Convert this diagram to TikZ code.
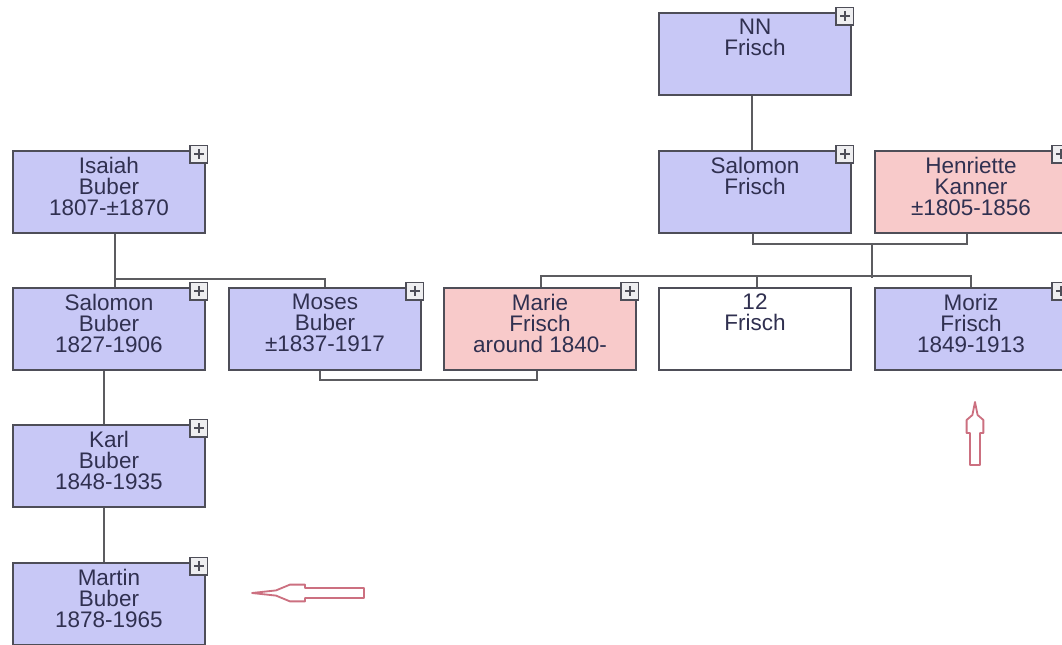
\documentclass[tikz,border=0pt]{standalone}
\usepackage{fontspec}
\setmainfont{Liberation Sans}
\usetikzlibrary{calc}
\definecolor{malefill}{HTML}{C8C8F6}
\definecolor{femfill}{HTML}{F8CACA}
\definecolor{stroke}{HTML}{4E4E58}
\definecolor{linec}{HTML}{5C5C60}
\definecolor{txt}{HTML}{303050}
\definecolor{arrowc}{HTML}{CC7080}
\definecolor{plusfill}{HTML}{EEEEF0}

\begin{document}
\begin{tikzpicture}[
  every node/.style={text=txt},
  person/.style={draw=stroke, line width=1.3pt, fill=malefill,
     minimum width=4.8cm, minimum height=2.05cm, inner sep=0pt,
     font=\fontsize{16}{14.9}\selectfont,
     execute at begin node={\begin{minipage}[c][1.75cm][t]{4.7cm}\centering},
     execute at end node={\end{minipage}}},
  woman/.style={person, fill=femfill},
  unknown/.style={person, fill=white},
  pbox/.style={draw=stroke, line width=1pt, fill=plusfill,
     minimum size=0.44cm, inner sep=0pt,
     path picture={\draw[line width=1pt, draw=stroke]
        ($(path picture bounding box.center)+(-0.12,0)$) -- ($(path picture bounding box.center)+(0.12,0)$)
        ($(path picture bounding box.center)+(0,-0.12)$) -- ($(path picture bounding box.center)+(0,0.12)$);}},
  link/.style={draw=linec, line width=1.4pt},
  hint/.style={draw=arrowc, line width=1.3pt, fill=white, line join=round},
]
\path[fill=white, use as bounding box] (0,0) rectangle (26.55,-16.1);
% --- columns / rows ---
\def\xa{2.725}  \def\xb{8.125}  \def\xc{13.5}  \def\xd{18.875}  \def\xe{24.275}
\def\ya{-1.35}  \def\yb{-4.8}  \def\yc{-8.225}  \def\yd{-11.65}  \def\ye{-15.1}
% --- Buber side ---
\node[person] (isaiah)   at (\xa,\yb) {Isaiah\\Buber\\1807-±1870};
\node[person] (salbuber) at (\xa,\yc) {Salomon\\Buber\\1827-1906};
\node[person] (moses)    at (\xb,\yc) {Moses\\Buber\\±1837-1917};
\node[person] (karl)     at (\xa,\yd) {Karl\\Buber\\1848-1935};
\node[person] (martin)   at (\xa,\ye) {Martin\\Buber\\1878-1965};
% --- Frisch side ---
\node[person]  (nn)        at (\xd,\ya) {NN\\Frisch};
\node[person]  (salfrisch) at (\xd,\yb) {Salomon\\Frisch};
\node[woman]   (henriette) at (\xe,\yb) {Henriette\\Kanner\\±1805-1856};
\node[woman]   (marie)     at (\xc,\yc) {Marie\\Frisch\\around 1840-};
\node[unknown] (twelve)    at (\xd,\yc) {12\\Frisch};
\node[person]  (moriz)     at (\xe,\yc) {Moriz\\Frisch\\1849-1913};
% --- expand buttons ---
\foreach \p in {isaiah,salbuber,moses,karl,martin,nn,salfrisch,henriette,marie,moriz}
  \node[pbox] (\p-plus) at ($(\p.north east)+(-0.175,-0.1)$) {};
% --- descent lines ---
\draw[link] ($(isaiah.south)+(0.15,0)$) -- ($(salbuber.north)+(0.15,0)$);
\coordinate (bbus) at ($(isaiah.south)+(0.15,-1.125)$);
\draw[link] (bbus) -| (moses.north);
\draw[link] ($(salbuber.south)+(-0.125,0)$) -- ($(karl.north)+(-0.125,0)$);
\draw[link] ($(karl.south)+(-0.125,0)$) -- ($(martin.north)+(-0.125,0)$);
\draw[link] ($(nn.south)+(-0.075,0)$) -- ($(salfrisch.north)+(-0.075,0)$);
% marriages
\draw[link] ($(moses.south)+(-0.125,0)$) -- ++(0,-0.225) -| ($(marie.south)+(-0.075,0)$);
\draw[link] ($(salfrisch.south)+(-0.05,0)$) -- ++(0,-0.25) -| ($(henriette.south)+(-0.1,0)$);
% children of Salomon & Henriette
\coordinate (fm) at ($(salfrisch.south)!0.5!(henriette.south)+(0.225,-0.25)$);
\coordinate (fbus) at ($(fm)+(0,-0.85)$);
\draw[link] (fm) -- (fbus);
\draw[link] ($(marie.north)+(0.025,0)$) |- ($(moriz.north)+(0,0.275)$) -- (moriz.north);
\draw[link] ($(twelve.north)+(0.05,0)$) -- ++(0,0.275);
% --- hint arrows ---
\coordinate (tipl) at (6.3,-14.825);
\draw[hint] (tipl) -- ++(0.6,0.065) -- ++(0.35,0.145) -- ++(0.375,0) -- ++(0,-0.085)
  -- ++(1.475,0) -- ++(0,-0.25) -- ++(-1.475,0) -- ++(0,-0.085) -- ++(-0.375,0)
  -- ++(-0.35,0.145) -- cycle;
\coordinate (tipu) at (24.375,-10.05);
\draw[hint] (tipu) -- ++(0.065,-0.325) -- ++(0.145,-0.125) -- ++(0,-0.325) -- ++(-0.085,0)
  -- ++(0,-0.8) -- ++(-0.25,0) -- ++(0,0.8) -- ++(-0.085,0) -- ++(0,0.325)
  -- ++(0.145,0.125) -- cycle;
\end{tikzpicture}
\end{document}
